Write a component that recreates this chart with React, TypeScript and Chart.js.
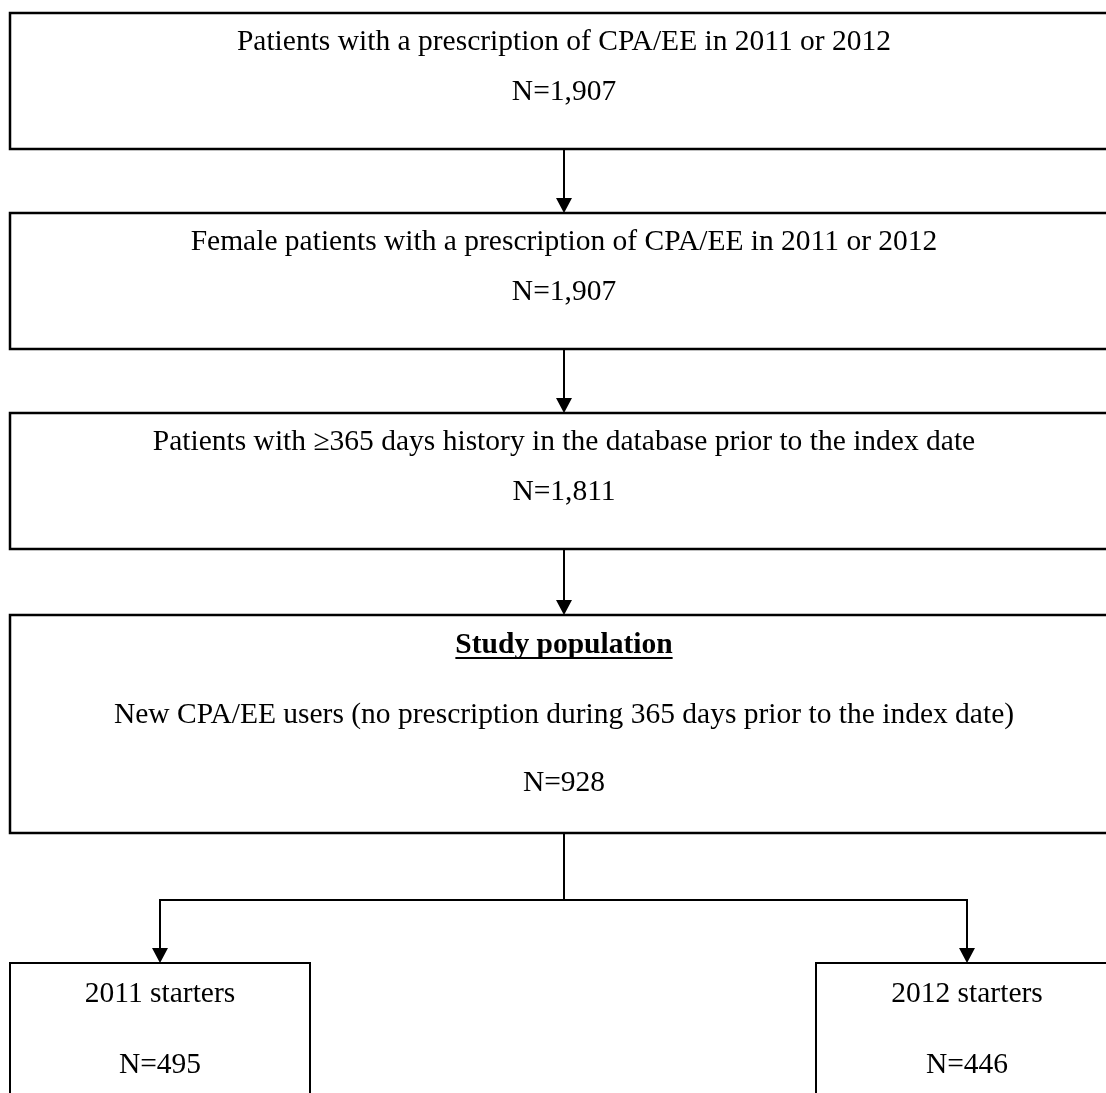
import React, { useEffect, useRef } from "react";
import { Chart, registerables } from "chart.js";

Chart.register(...registerables);

// ---- data ----
const stepLabels = [
  "Patients with a prescription of CPA/EE in 2011 or 2012",
  "Female patients with a prescription of CPA/EE in 2011 or 2012",
  "Patients with \u2265365 days history in the database prior to the index date",
  "New CPA/EE users (no prescription during 365 days prior to the index date)",
];
const stepCounts = [1907, 1907, 1811, 928];
const studyTitle = "Study population";
const cohortLabels = ["2011 starters", "2012 starters"];
const cohortCounts = [495, 446];

// ---- layout (in scale units, mapped to pixels through chart scales) ----
const W = 1106;
const H = 1093;
const mainBox = { left: 10, right: 1118 };
const stepTops = [13, 213, 413, 615];
const stepBottoms = [149, 349, 549, 833];
const cohortBoxes = [
  { left: 10, right: 310, top: 963, bottom: 1110 },
  { left: 816, right: 1118, top: 963, bottom: 1110 },
];
const centerX = 564;
const splitY = 900;

const fmt = (n: number) => "N=" + n.toLocaleString("en-US");

const flowPlugin = {
  id: "flow",
  afterDraw(chart: any) {
    const ctx = chart.ctx as CanvasRenderingContext2D;
    const xs = chart.scales.x;
    const ys = chart.scales.y;
    const X = (v: number) => xs.getPixelForValue(v);
    const Y = (v: number) => ys.getPixelForValue(v);
    const font = '"Liberation Serif", "Times New Roman", serif';
    ctx.save();
    ctx.fillStyle = "#ffffff";
    ctx.fillRect(0, 0, chart.width, chart.height);
    ctx.strokeStyle = "#000";
    ctx.fillStyle = "#000";

    const rect = (l: number, t: number, r: number, b: number, lw: number) => {
      ctx.lineWidth = lw;
      ctx.strokeRect(X(l), Y(t), X(r) - X(l), Y(b) - Y(t));
    };
    const line = (x1: number, y1: number, x2: number, y2: number) => {
      ctx.lineWidth = 2;
      ctx.beginPath();
      ctx.moveTo(X(x1), Y(y1));
      ctx.lineTo(X(x2), Y(y2));
      ctx.stroke();
    };
    const arrow = (x: number, y1: number, y2: number) => {
      line(x, y1, x, y2 - 14);
      ctx.beginPath();
      ctx.moveTo(X(x) - 8, Y(y2) - 15);
      ctx.lineTo(X(x) + 8, Y(y2) - 15);
      ctx.lineTo(X(x), Y(y2));
      ctx.closePath();
      ctx.fill();
    };
    const text = (s: string, x: number, y: number, bold = false, underline = false) => {
      ctx.font = (bold ? "bold " : "") + "29.5px " + font;
      ctx.textAlign = "center";
      ctx.textBaseline = "alphabetic";
      ctx.fillText(s, X(x), Y(y));
      if (underline) {
        const w = ctx.measureText(s).width;
        ctx.lineWidth = 2;
        ctx.beginPath();
        ctx.moveTo(X(x) - w / 2, Y(y) + 5);
        ctx.lineTo(X(x) + w / 2, Y(y) + 5);
        ctx.stroke();
      }
    };

    // step boxes
    stepLabels.forEach((lab, i) => {
      const t = stepTops[i];
      const b = stepBottoms[i];
      rect(mainBox.left, t, mainBox.right, b, 2.5);
      if (i < 3) {
        text(lab, centerX, t + 37);
        text(fmt(stepCounts[i]), centerX, t + 87);
      } else {
        text(studyTitle, centerX, t + 38, true, true);
        text(lab, centerX, t + 108);
        text(fmt(stepCounts[i]), centerX, t + 176);
      }
      if (i < stepLabels.length - 1) {
        arrow(centerX, b, stepTops[i + 1]);
      }
    });

    // split
    const lastBottom = stepBottoms[stepBottoms.length - 1];
    line(centerX, lastBottom, centerX, splitY);
    const cx = cohortBoxes.map((c) => (c.left + c.right) / 2);
    line(cx[0] - 1, splitY, cx[1] + 1, splitY);
    cohortBoxes.forEach((c, i) => {
      arrow(cx[i], splitY, c.top);
      rect(c.left, c.top, c.right, c.bottom, 2);
      text(cohortLabels[i], cx[i], c.top + 39);
      text(fmt(cohortCounts[i]), cx[i], c.top + 110);
    });
    ctx.restore();
  },
};

export default function App() {
  const ref = useRef<HTMLCanvasElement | null>(null);
  useEffect(() => {
    document.body.style.margin = "0";
    if (!ref.current) return;
    const chart = new Chart(ref.current, {
      type: "scatter",
      data: { datasets: [{ data: [], pointRadius: 0 }] },
      options: {
        animation: false,
        responsive: false,
        devicePixelRatio: 1,
        layout: { padding: 0 },
        plugins: { legend: { display: false }, tooltip: { enabled: false } },
        scales: {
          x: { type: "linear", min: 0, max: W, display: false },
          y: { type: "linear", min: 0, max: H, reverse: true, display: false },
        },
      },
      plugins: [flowPlugin],
    });
    return () => chart.destroy();
  }, []);
  return (
    <div style={{ width: W, height: H, overflow: "hidden" }}>
      <canvas ref={ref} width={W} height={H} style={{ display: "block", width: W, height: H }} />
    </div>
  );
}
